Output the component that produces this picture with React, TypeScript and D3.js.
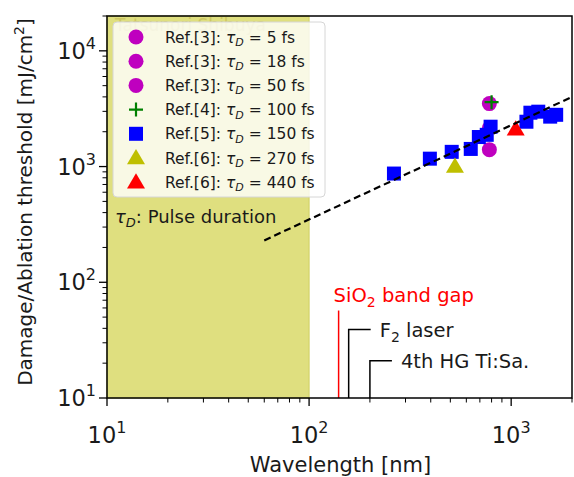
import React from 'react';
import * as d3 from 'd3';

// wavelength [nm] / threshold [mJ/cm2]
const circleX = [780, 780, 780];
const circleY = [3500, 2150, 1400];
const plusX = [800];
const plusY = [3600];
const squareX = [263, 396, 508, 631, 692, 757, 791, 1190, 1245, 1362, 1560, 1670];
const squareY = [870, 1170, 1340, 1420, 1800, 1880, 2210, 2440, 2920, 2980, 2700, 2800];
const yTriX = [527];
const yTriY = [1000];
const rTriX = [1053];
const rTriY = [2100];

const fitX = [60, 2000];
const fitY = [230, 4000];

const legendRefs = ['3', '3', '3', '4', '5', '6', '6'];
const legendTau = [5, 18, 50, 100, 150, 270, 440];
const legendMarks = ['circle', 'circle', 'circle', 'plus', 'square', 'tri', 'tri'];
const legendColors = ['#bf00bf', '#bf00bf', '#bf00bf', '#008000', '#0000ff', '#bfbf00', '#ff0000'];

const xMajor = [10, 100, 1000];
const yMajor = [10, 100, 1000, 10000];

const annotNames = ['F2', '4th'];
const annotX = [157, 200];
const annotTop = [39, 21];
const bandGapX = 140;
const bandGapTop = 57;

const font = 'DejaVu Sans, sans-serif';
const ink = '#1a1a1a';

function Marker({ kind, cx, cy, color }: { kind: string; cx: number; cy: number; color: string }) {
  if (kind === 'circle') return <circle cx={cx} cy={cy} r={7.5} fill={color} />;
  if (kind === 'square') return <rect x={cx - 7} y={cy - 7} width={14} height={14} fill={color} />;
  if (kind === 'plus')
    return (
      <path d={`M${cx - 7},${cy}H${cx + 7}M${cx},${cy - 7}V${cy + 7}`} stroke={color} strokeWidth={2.2} />
    );
  const s = 9;
  return (
    <path
      d={`M${cx},${cy - s}L${cx + s},${cy + s * 0.7}L${cx - s},${cy + s * 0.7}Z`}
      fill={color}
    />
  );
}

export default function App() {
  const left = 107, right = 572, top = 16, bottom = 398;
  const x = d3.scaleLog().domain([10, 2000]).range([left, right]);
  const y = d3.scaleLog().domain([10, 20000]).range([bottom, top]);

  const xMinor: number[] = [];
  [10, 100, 1000].forEach(b => d3.range(2, 10).forEach(m => { if (b * m <= 2000) xMinor.push(b * m); }));
  const yMinor: number[] = [];
  [10, 100, 1000, 10000].forEach(b => d3.range(2, 10).forEach(m => { if (b * m <= 20000) yMinor.push(b * m); }));

  const fitLine = d3.line<number>().x((_, i) => x(fitX[i])).y(d => y(d))(fitY) || '';

  return (
    <svg width={574} height={477} style={{ position: 'absolute', left: 0, top: 0, fontFamily: font }}>
      <rect width={574} height={477} fill="#fff" />
      <rect x={x(10)} y={top} width={x(100) - x(10)} height={bottom - top} fill="#dfdf7f" stroke="#cfcf60" strokeWidth={1} />
      <text x={115} y={31} fontSize={17} fill="#c9c25a" opacity={0.8}>Tatsunori Shibuya</text>

      {circleX.map((d, i) => <Marker key={'c' + i} kind="circle" cx={x(d)} cy={y(circleY[i])} color="#bf00bf" />)}
      {squareX.map((d, i) => <Marker key={'s' + i} kind="square" cx={x(d)} cy={y(squareY[i])} color="#0000ff" />)}
      {plusX.map((d, i) => <Marker key={'p' + i} kind="plus" cx={x(d)} cy={y(plusY[i])} color="#008000" />)}
      {yTriX.map((d, i) => <Marker key={'y' + i} kind="tri" cx={x(d)} cy={y(yTriY[i])} color="#bfbf00" />)}
      {rTriX.map((d, i) => <Marker key={'r' + i} kind="tri" cx={x(d)} cy={y(rTriY[i])} color="#ff0000" />)}

      <path d={fitLine} fill="none" stroke="#000" strokeWidth={2.2} strokeDasharray="7,4" />

      <line x1={x(bandGapX)} x2={x(bandGapX)} y1={bottom} y2={y(bandGapTop)} stroke="#ff0000" strokeWidth={1.5} />
      <text x={x(bandGapX) - 5} y={y(bandGapTop) - 9} fontSize={19.5} fill="#ff0000">
        SiO<tspan dy={5} fontSize={14}>2</tspan><tspan dy={-5}> band gap</tspan>
      </text>
      {annotX.map((d, i) => (
        <g key={'a' + i}>
          <path d={`M${x(d)},${bottom}V${y(annotTop[i])}H${x(d) + 22}`} fill="none" stroke="#000" strokeWidth={1.5} />
          <text x={x(d) + 31} y={y(annotTop[i]) + 7} fontSize={19.5} fill={ink}>
            {annotNames[i] === 'F2'
              ? <>F<tspan dy={5} fontSize={14}>2</tspan><tspan dy={-5}> laser</tspan></>
              : '4th HG Ti:Sa.'}
          </text>
        </g>
      ))}

      <g>
        <rect x={113} y={22} width={212} height={175} rx={4} fill="#ffffff" fillOpacity={0.8} stroke="#d6d6d6" />
        {legendRefs.map((r, i) => {
          const cy = 37 + i * 24.2;
          return (
            <g key={'l' + i}>
              <Marker kind={legendMarks[i]} cx={136} cy={cy} color={legendColors[i]} />
              <text x={165} y={cy + 5.5} fontSize={15.5} fill={ink}>
                {`Ref.[${r}]: `}
                <tspan fontStyle="italic">τ</tspan>
                <tspan dy={3.5} fontSize={11} fontStyle="italic">D</tspan>
                <tspan dy={-3.5}>{` = ${legendTau[i]} fs`}</tspan>
              </text>
            </g>
          );
        })}
      </g>

      <text x={115} y={223} fontSize={18} fill={ink}>
        <tspan fontStyle="italic">τ</tspan>
        <tspan dy={4} fontSize={13} fontStyle="italic">D</tspan>
        <tspan dy={-4}>: Pulse duration</tspan>
      </text>

      <rect x={left} y={top} width={right - left} height={bottom - top} fill="none" stroke="#000" strokeWidth={1.5} />

      {xMajor.map(t => (
        <g key={'xt' + t}>
          <line x1={x(t)} x2={x(t)} y1={bottom} y2={bottom + 8} stroke="#000" strokeWidth={1.3} />
          <text x={x(t)} y={443} fontSize={22.5} textAnchor="middle" fill={ink}>
            10<tspan dy={-10} fontSize={16}>{Math.round(Math.log10(t))}</tspan>
          </text>
        </g>
      ))}
      {xMinor.map(t => (
        <line key={'xm' + t} x1={x(t)} x2={x(t)} y1={bottom} y2={bottom + 4.5} stroke="#000" strokeWidth={1} />
      ))}
      {yMajor.map(t => (
        <g key={'yt' + t}>
          <line x1={left - 8} x2={left} y1={y(t)} y2={y(t)} stroke="#000" strokeWidth={1.3} />
          <text x={96} y={y(t) + 8} fontSize={22.5} textAnchor="end" fill={ink}>
            10<tspan dy={-10} fontSize={16}>{Math.round(Math.log10(t))}</tspan>
          </text>
        </g>
      ))}
      {yMinor.map(t => (
        <line key={'ym' + t} x1={left - 4.5} x2={left} y1={y(t)} y2={y(t)} stroke="#000" strokeWidth={1} />
      ))}

      <text x={(left + right) / 2 + 1} y={472} fontSize={21} textAnchor="middle" fill={ink}>Wavelength [nm]</text>
      <text transform="translate(32,202) rotate(-90)" fontSize={20} textAnchor="middle" fill={ink}>
        Damage/Ablation threshold [mJ/cm<tspan dy={-8} fontSize={14}>2</tspan><tspan dy={8}>]</tspan>
      </text>
    </svg>
  );
}
